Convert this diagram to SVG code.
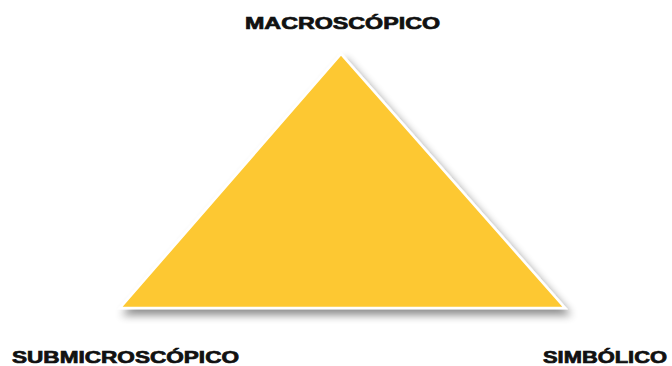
<svg xmlns="http://www.w3.org/2000/svg" width="672" height="366" viewBox="0 0 672 366">
<style>
.lbl{font-family:"Liberation Sans",Arial,sans-serif;font-weight:bold;font-size:16.5px;fill:#111111;stroke:#111111;stroke-width:0.7px}
</style>
<defs>
<filter id="sh" x="-20%" y="-20%" width="140%" height="140%">
<feGaussianBlur in="SourceAlpha" stdDeviation="4"/>
<feOffset dx="4" dy="6" result="b"/>
<feComponentTransfer><feFuncA type="linear" slope="0.45"/></feComponentTransfer>
<feMerge><feMergeNode/><feMergeNode in="SourceGraphic"/></feMerge>
</filter>
</defs>
<rect width="672" height="366" fill="#ffffff"/>
<g id="triangle">
<polygon points="341,54 120,308 565,308" fill="#FDC830" stroke="#ffffff" stroke-width="2.5" stroke-linejoin="miter" filter="url(#sh)"/>
</g>
<g id="macroscopico"><text class="lbl" x="245" y="29" textLength="195" lengthAdjust="spacingAndGlyphs">MACROSCÓPICO</text></g>
<g id="submicroscopico"><text class="lbl" x="12" y="363" textLength="227" lengthAdjust="spacingAndGlyphs">SUBMICROSCÓPICO</text></g>
<g id="simbolico"><text class="lbl" x="543" y="363" textLength="124" lengthAdjust="spacingAndGlyphs">SIMBÓLICO</text></g>
<g id="connectors"></g>
</svg>
